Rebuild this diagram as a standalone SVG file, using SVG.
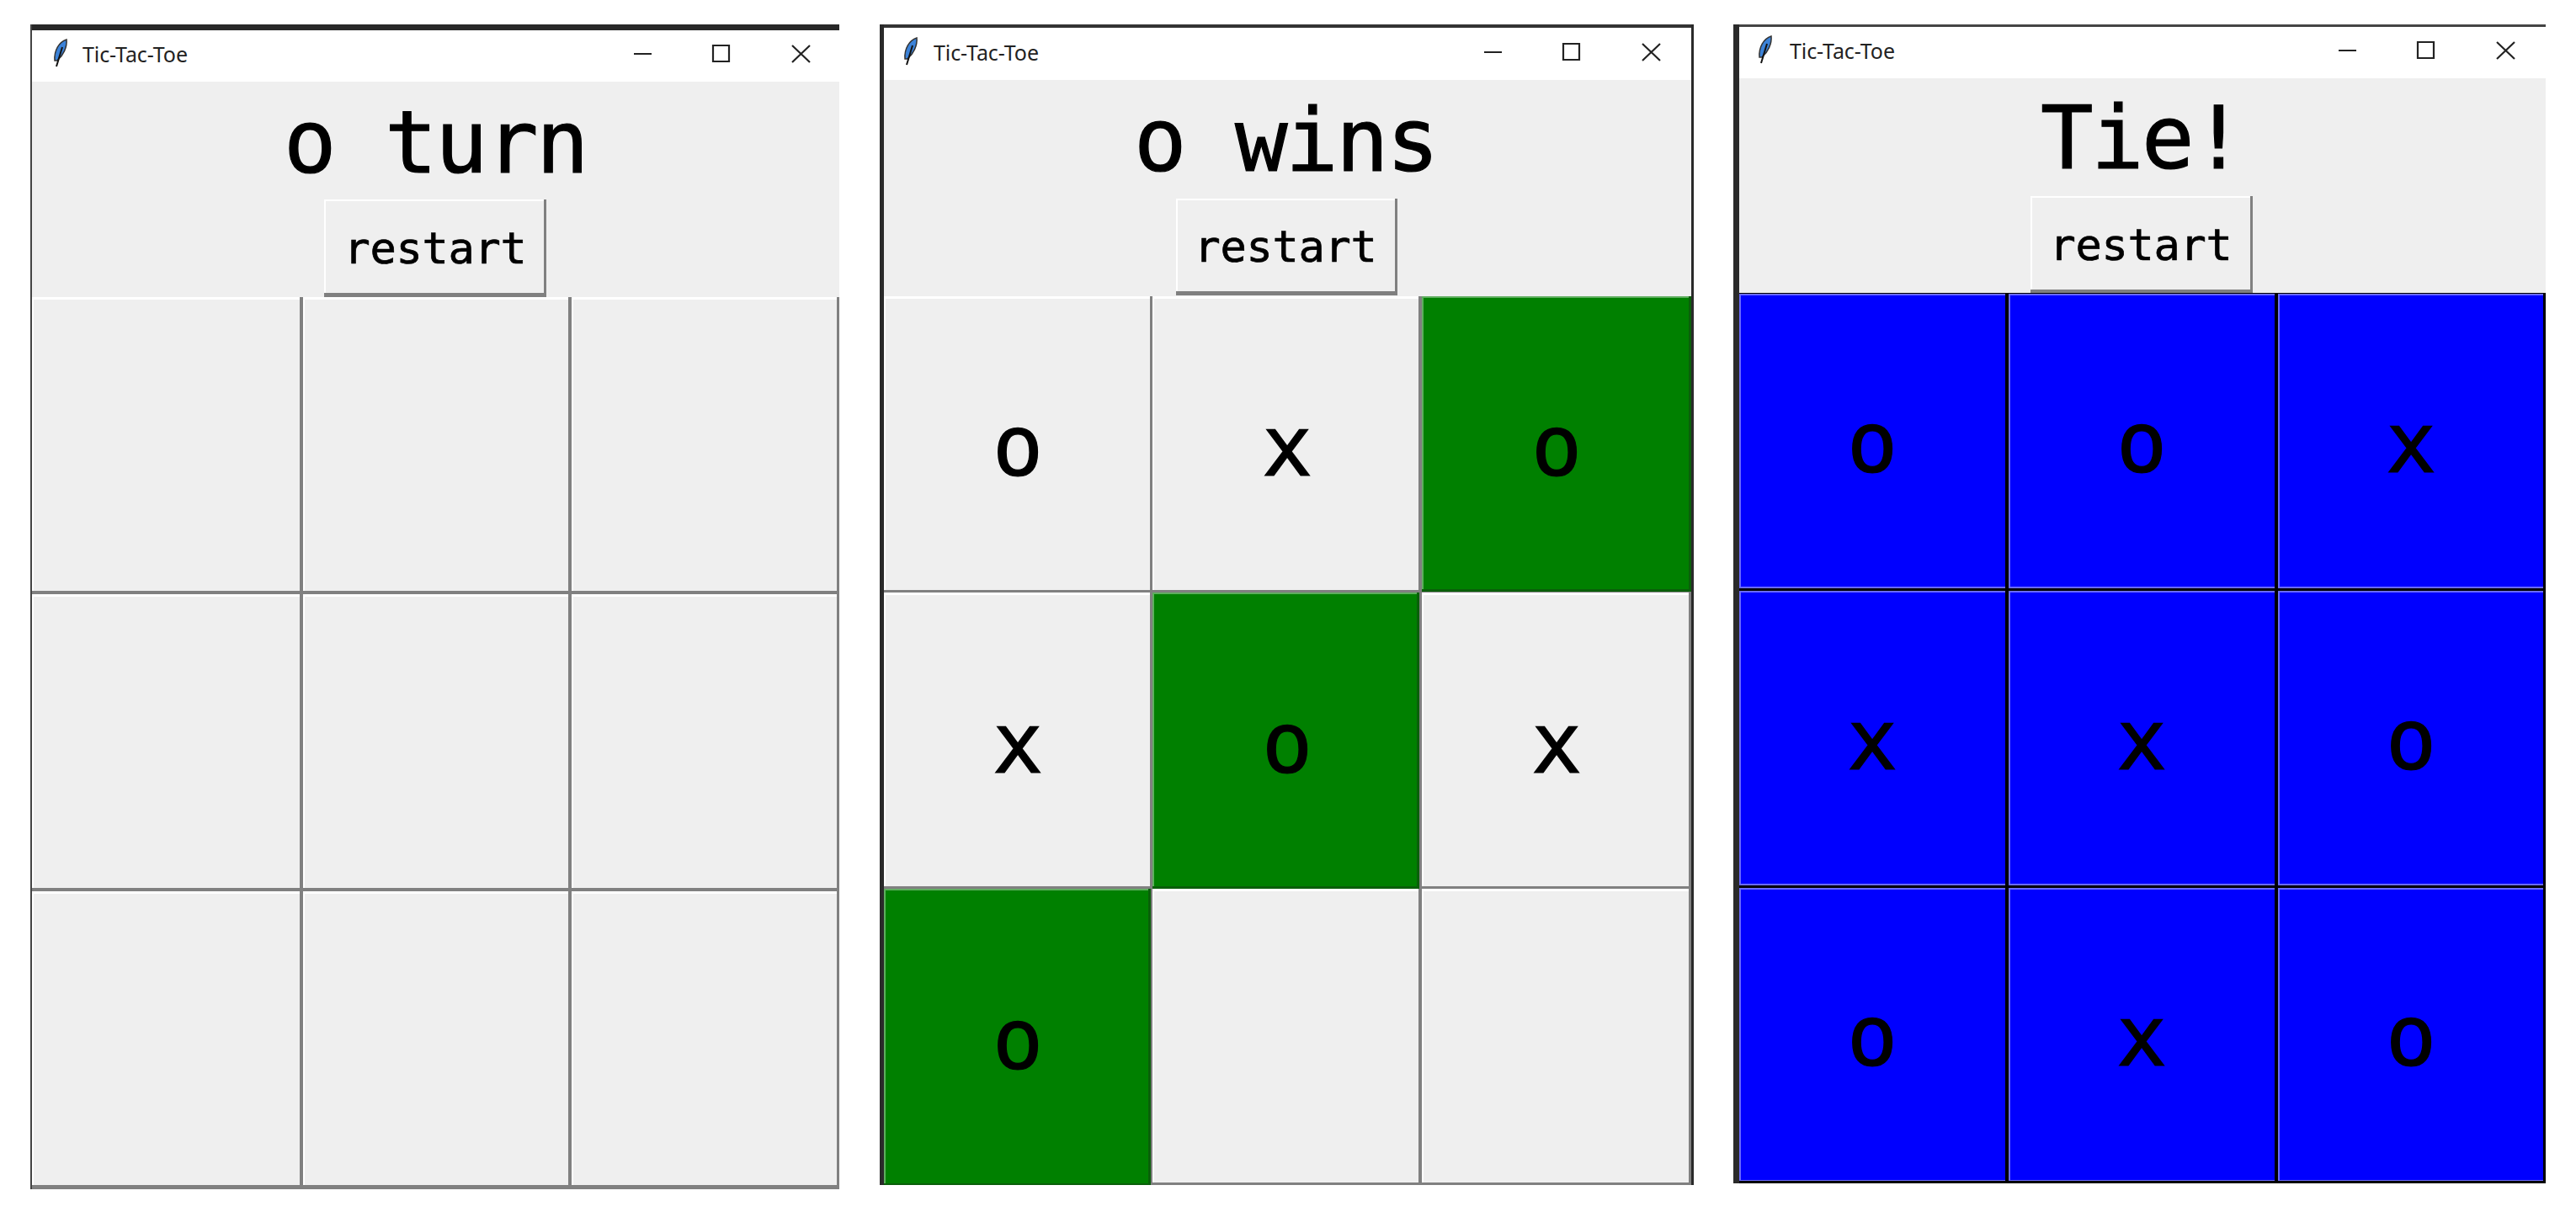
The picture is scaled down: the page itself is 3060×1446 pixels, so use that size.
<svg xmlns="http://www.w3.org/2000/svg" width="3060" height="1446" viewBox="0 0 3060 1446">
<style>
.h{font-family:"DejaVu Sans Mono","Liberation Mono",monospace;font-size:104px;letter-spacing:-2.6px;text-anchor:middle;fill:#000;stroke:#000;stroke-width:1.2}
.r{font-family:"DejaVu Sans Mono","Liberation Mono",monospace;font-size:52px;letter-spacing:-.3px;text-anchor:middle;fill:#000;stroke:#000;stroke-width:.7}
.c{font-family:"DejaVu Sans Mono","Liberation Mono",monospace;font-size:100px;text-anchor:middle;fill:#000;stroke:#000;stroke-width:1.2}
.t{font-family:"Noto Sans","Liberation Sans",sans-serif;font-size:25px;fill:#222}
.g{fill:#efefef}.gr{fill:#008000}.b{fill:#0000ff}
.ic{fill:none;stroke:#222;stroke-width:2.2}
</style>
<rect width="3060" height="1446" fill="#fff"/>
<defs>
<g id="chrome">
<path d="M79 47C70 50 64 60 65 72L68 72C75 66 80 56 79 47Z" fill="#3b82d8" stroke="#333" stroke-width="1.5"/>
<path d="M74 56L67 79" stroke="#111" stroke-width="2" fill="none"/>
<path class="ic" d="M753 64H774M847 54H866V73H847ZM941 54L962 74M962 54L941 74"/>
</g>
</defs>

<g id="window-1">
<rect x="36" y="29" width="961" height="8" fill="#282828"/>
<rect x="36" y="29" width="2" height="1384" fill="#444"/>
<rect x="38" y="36" width="959" height="61" fill="#fff"/>
<rect class="g" x="38" y="97" width="959" height="256"/>
<use href="#chrome"/>
<text class="t" x="98" y="74" textLength="125">Tic-Tac-Toe</text>
<text class="h" x="517" y="205">o turn</text>
<g id="w1-restart"><rect x="385" y="237" width="264" height="116" fill="#808080"/><rect x="385" y="237" width="261" height="111" fill="#fff"/><rect class="g" x="387" y="239" width="259" height="109"/><text class="r" x="517" y="313">restart</text></g>
<g id="w1-grid">
<rect x="38" y="353" width="959" height="1060" fill="#808080"/>
<rect x="38" y="353" width="318" height="349" fill="#fff"/><rect class="g" x="40" y="356" width="316" height="346"/>
<rect x="360" y="353" width="315" height="349" fill="#fff"/><rect class="g" x="362" y="356" width="313" height="346"/>
<rect x="679" y="353" width="315" height="349" fill="#fff"/><rect class="g" x="681" y="356" width="313" height="346"/>
<rect x="38" y="706" width="318" height="349" fill="#fff"/><rect class="g" x="40" y="709" width="316" height="346"/>
<rect x="360" y="706" width="315" height="349" fill="#fff"/><rect class="g" x="362" y="709" width="313" height="346"/>
<rect x="679" y="706" width="315" height="349" fill="#fff"/><rect class="g" x="681" y="709" width="313" height="346"/>
<rect x="38" y="1059" width="318" height="349" fill="#fff"/><rect class="g" x="40" y="1062" width="316" height="346"/>
<rect x="360" y="1059" width="315" height="349" fill="#fff"/><rect class="g" x="362" y="1062" width="313" height="346"/>
<rect x="679" y="1059" width="315" height="349" fill="#fff"/><rect class="g" x="681" y="1062" width="313" height="346"/>
</g>
</g>

<g id="window-2">
<rect x="1045" y="29" width="967" height="4" fill="#333"/>
<rect x="1045" y="29" width="5" height="1379" fill="#2a2a2a"/>
<rect x="2009" y="29" width="3" height="1379" fill="#2a2a2a"/>
<rect x="1050" y="33" width="959" height="62" fill="#fff"/>
<rect class="g" x="1050" y="95" width="959" height="257"/>
<use href="#chrome" transform="translate(1010 -2)"/>
<text class="t" x="1109" y="72" textLength="125">Tic-Tac-Toe</text>
<text class="h" x="1527" y="203">o wins</text>
<g id="w2-restart"><rect x="1397" y="236" width="263" height="115" fill="#808080"/><rect x="1397" y="236" width="260" height="110" fill="#fff"/><rect class="g" x="1399" y="238" width="258" height="108"/><text class="r" x="1527" y="311">restart</text></g>
<g id="w2-grid">
<rect x="1050" y="352" width="959" height="1056" fill="#808080"/>
<rect x="1050" y="352" width="316" height="349" fill="#fff"/><rect class="g" x="1052" y="355" width="314" height="346"/>
<rect x="1369" y="352" width="316" height="349" fill="#fff"/><rect class="g" x="1371" y="355" width="314" height="346"/>
<rect x="1689" y="352" width="320" height="351" fill="#0a5f0a"/><rect x="1689" y="352" width="317" height="348" fill="#5fae5f"/><rect class="gr" x="1691" y="354" width="315" height="346"/>
<rect x="1050" y="704" width="316" height="349" fill="#fff"/><rect class="g" x="1052" y="707" width="314" height="346"/>
<rect x="1369" y="704" width="317" height="352" fill="#0a5f0a"/><rect x="1369" y="704" width="314" height="349" fill="#5fae5f"/><rect class="gr" x="1371" y="706" width="312" height="347"/>
<rect x="1689" y="704" width="317" height="349" fill="#fff"/><rect class="g" x="1691" y="707" width="315" height="346"/>
<rect x="1050" y="1056" width="317" height="352" fill="#0a5f0a"/><rect x="1050" y="1056" width="314" height="350" fill="#5fae5f"/><rect class="gr" x="1052" y="1058" width="312" height="348"/>
<rect x="1369" y="1056" width="316" height="349" fill="#fff"/><rect class="g" x="1371" y="1059" width="314" height="346"/>
<rect x="1689" y="1056" width="317" height="349" fill="#fff"/><rect class="g" x="1691" y="1059" width="315" height="346"/>
</g>
<text class="c" x="1209" y="565">o</text><text class="c" x="1529" y="565">x</text><text class="c" x="1849" y="565">o</text>
<text class="c" x="1209" y="918">x</text><text class="c" x="1529" y="918">o</text><text class="c" x="1849" y="918">x</text>
<text class="c" x="1209" y="1270">o</text>
</g>

<g id="window-3">
<rect x="2059" y="29" width="965" height="3" fill="#444"/>
<rect x="2059" y="29" width="7" height="1377" fill="#2a2a2a"/>
<rect x="2066" y="32" width="958" height="61" fill="#fff"/>
<rect class="g" x="2066" y="93" width="958" height="255"/>
<use href="#chrome" transform="translate(2025 -4)"/>
<text class="t" x="2126" y="70" textLength="125">Tic-Tac-Toe</text>
<text class="h" x="2544" y="200">Tie!</text>
<g id="w3-restart"><rect x="2412" y="233" width="264" height="115" fill="#808080"/><rect x="2412" y="233" width="261" height="111" fill="#fff"/><rect class="g" x="2414" y="235" width="259" height="109"/><text class="r" x="2543" y="309">restart</text></g>
<g id="w3-grid">
<rect x="2066" y="348" width="958" height="1058" fill="#000"/>
<rect x="2066" y="349" width="316" height="350" fill="#6a6aff"/><rect class="b" x="2068" y="351" width="314" height="346"/>
<rect x="2386" y="349" width="316" height="350" fill="#6a6aff"/><rect class="b" x="2388" y="351" width="314" height="346"/>
<rect x="2706" y="349" width="315" height="350" fill="#6a6aff"/><rect class="b" x="2708" y="351" width="313" height="346"/>
<rect x="2066" y="702" width="316" height="350" fill="#6a6aff"/><rect class="b" x="2068" y="704" width="314" height="346"/>
<rect x="2386" y="702" width="316" height="350" fill="#6a6aff"/><rect class="b" x="2388" y="704" width="314" height="346"/>
<rect x="2706" y="702" width="315" height="350" fill="#6a6aff"/><rect class="b" x="2708" y="704" width="313" height="346"/>
<rect x="2066" y="1055" width="316" height="348" fill="#6a6aff"/><rect class="b" x="2068" y="1057" width="314" height="345"/>
<rect x="2386" y="1055" width="316" height="348" fill="#6a6aff"/><rect class="b" x="2388" y="1057" width="314" height="345"/>
<rect x="2706" y="1055" width="315" height="348" fill="#6a6aff"/><rect class="b" x="2708" y="1057" width="313" height="345"/>
</g>
<text class="c" x="2224" y="561">o</text><text class="c" x="2544" y="561">o</text><text class="c" x="2864" y="561">x</text>
<text class="c" x="2224" y="914">x</text><text class="c" x="2544" y="914">x</text><text class="c" x="2864" y="914">o</text>
<text class="c" x="2224" y="1266">o</text><text class="c" x="2544" y="1266">x</text><text class="c" x="2864" y="1266">o</text>
</g>
</svg>
